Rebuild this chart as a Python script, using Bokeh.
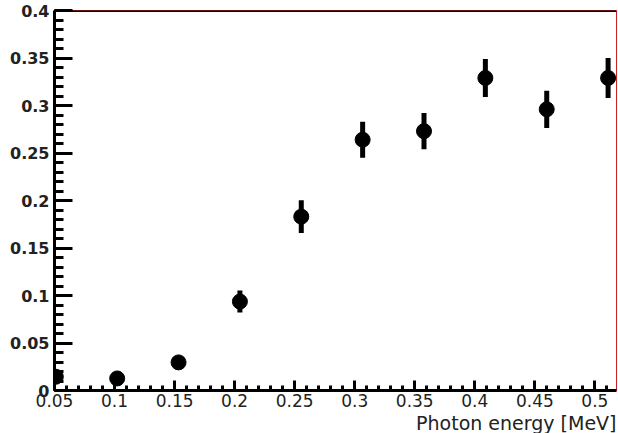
from bokeh.plotting import figure
from bokeh.models import SingleIntervalTicker, Range1d, Title, Span, ColumnDataSource
from bokeh.embed import file_html
from bokeh.resources import INLINE

# Data
energy = [0.0511, 0.1022, 0.1533, 0.2044, 0.2555, 0.3066, 0.3577, 0.4088, 0.4599, 0.5110]
value = [0.0145, 0.0127, 0.0296, 0.0936, 0.183, 0.264, 0.273, 0.329, 0.296, 0.329]
error = [0.004, 0.004, 0.005, 0.0116, 0.0173, 0.019, 0.019, 0.020, 0.0196, 0.021]

x_label = "Photon energy [MeV]"

lower = [v - e for v, e in zip(value, error)]
upper = [v + e for v, e in zip(value, error)]
src = ColumnDataSource(dict(x=energy, y=value, lo=lower, hi=upper))

p = figure(width=618, height=433, output_backend="svg", toolbar_location=None,
           x_range=Range1d(0.05, 0.518), y_range=Range1d(0.0, 0.4),
           min_border_left=54, min_border_right=2, min_border_top=10, min_border_bottom=10)

p.background_fill_color = "white"
p.border_fill_color = "white"
p.outline_line_color = "#cc2222"
p.outline_line_width = 1
p.grid.visible = False

# error bars and points
p.segment(x0="x", y0="lo", x1="x", y1="hi", source=src, line_color="black", line_width=5)
p.scatter(x="x", y="y", source=src, size=15, marker="circle", fill_color="black", line_color="black")

# top frame black line
p.add_layout(Span(location=0.4, dimension="width", line_color="black", line_width=3))

xa = p.xaxis[0]
xa.ticker = SingleIntervalTicker(interval=0.05, num_minor_ticks=5)
xa.axis_line_color = "black"
xa.axis_line_width = 3
xa.major_tick_in = 10
xa.major_tick_out = 0
xa.minor_tick_in = 5
xa.minor_tick_out = 0
xa.major_tick_line_width = 3
xa.minor_tick_line_width = 3
xa.major_tick_line_color = "black"
xa.minor_tick_line_color = "black"
xa.major_label_text_font = "DejaVu Sans"
xa.major_label_text_font_size = "17px"
xa.major_label_text_color = "#222222"
xa.major_label_standoff = 3

ya = p.yaxis[0]
ya.ticker = SingleIntervalTicker(interval=0.05, num_minor_ticks=5)
ya.axis_line_color = "black"
ya.axis_line_width = 3
ya.major_tick_in = 18
ya.major_tick_out = 0
ya.minor_tick_in = 9
ya.minor_tick_out = 0
ya.major_tick_line_width = 3
ya.minor_tick_line_width = 3
ya.major_tick_line_color = "black"
ya.minor_tick_line_color = "black"
ya.major_label_text_font = "DejaVu Sans"
ya.major_label_text_font_style = "bold"
ya.major_label_text_font_size = "16px"
ya.major_label_text_color = "#222222"
ya.major_label_standoff = 5

t = Title(text=x_label, align="right", text_font="DejaVu Sans", text_font_size="19px",
          text_font_style="normal", text_color="#222222", standoff=0, offset=0)
p.add_layout(t, "below")

open("out.html", "w").write(file_html(p, INLINE))
